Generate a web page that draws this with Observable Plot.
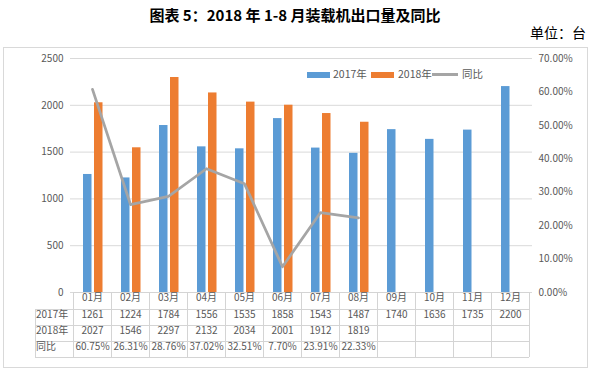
<!DOCTYPE html>
<html><head><meta charset="utf-8">
<script src="https://cdn.jsdelivr.net/npm/d3@7"></script>
<script src="https://cdn.jsdelivr.net/npm/@observablehq/plot@0.6"></script>
<style>
body{margin:0;background:#fff;}
#wrap{position:relative;width:590px;height:371px;overflow:hidden;font-family:"Noto Sans CJK SC","Noto Sans",sans-serif;}
#title{position:absolute;left:0;top:0;width:590px;height:30px;line-height:30px;text-align:center;font-size:15px;font-weight:bold;color:#000;}
#unit{position:absolute;right:4px;top:24px;line-height:16px;font-size:14px;color:#000;}
#box{position:absolute;left:3px;top:47px;width:585px;height:321px;box-sizing:border-box;border:1px solid #d9d9d9;}
#chart{position:absolute;left:0;top:47px;}
.lg{position:absolute;font-size:10.5px;color:#595959;line-height:12px;top:68px;}
.sw{position:absolute;top:71.5px;height:6px;width:23px;}
</style></head><body>
<div id="wrap">
  <div id="title">图表 5：2018 年 1-8 月装载机出口量及同比</div>
  <div id="unit">单位：台</div>
  <div id="box"></div>
  <div id="chart"></div>
  <div id="legend"></div>
</div>
<script>
const months = ["01月","02月","03月","04月","05月","06月","07月","08月","09月","10月","11月","12月"];
const sales2017 = [1261,1224,1784,1556,1535,1858,1543,1487,1740,1636,1735,2200];
const sales2018 = [2027,1546,2297,2132,2034,2001,1912,1819];
const yoy = [60.75,26.31,28.76,37.02,32.51,7.70,23.91,22.33];
const leftTicks = [0,500,1000,1500,2000,2500];
const rightTicks = [0,10,20,30,40,50,60,70];
const rowLabels = ["2017年","2018年","同比"];
const seriesNames = ["2017年","2018年","同比"];
const colors = ["#5b9bd5","#ed7d31","#a5a5a5"];

const pctToY = d3.scaleLinear([0,70],[0,2500]);
const fmtPct = v => v.toFixed(2) + "%";

const d17 = months.map((m,i)=>({month:m, value:sales2017[i]}));
const d18 = sales2018.map((v,i)=>({month:months[i], value:v}));
const dY = yoy.map((v,i)=>({month:months[i], value:v}));

// table layout (offsets below the plot frame)
const headerH = 17, rowH = 16, rowHeadLeft = 34.5;
const rowCenters = [headerH + rowH/2, headerH + rowH*1.5, headerH + rowH*2.5];

const tableGrid = (index, scales, values, dims) => {
  const x = scales.x;
  const bw = x(months[1]) - x(months[0]);
  const left = x(months[0]), right = x(months[months.length-1]) + bw;
  const B = dims.height - dims.marginBottom;
  const g = d3.create("svg:g").attr("stroke", "#d4d4d4").attr("fill","none").attr("shape-rendering","crispEdges");
  const hs = [0, headerH, headerH+rowH, headerH+2*rowH, headerH+3*rowH];
  hs.forEach((h,i)=>{
    g.append("line").attr("x1", i===0 ? left : rowHeadLeft).attr("x2", right)
     .attr("y1", B+h+0.5).attr("y2", B+h+0.5);
  });
  g.append("line").attr("x1", rowHeadLeft+0.5).attr("x2", rowHeadLeft+0.5)
   .attr("y1", B+headerH).attr("y2", B+headerH+3*rowH);
  for (let i=0;i<=months.length;i++){
    const xx = Math.round(left + i*bw) + 0.5;
    g.append("line").attr("x1", xx).attr("x2", xx).attr("y1", B).attr("y2", B+headerH+3*rowH);
  }
  return g.node();
};

const txt = {fill: "#595959", fontSize: 10};
const chart = Plot.plot({
  width: 590, height: 324,
  marginTop: 11, marginBottom: 79, marginLeft: 70, marginRight: 58,
  style: {fontFamily: '"Noto Sans CJK SC","Noto Sans",sans-serif', fontSize: "10px", color: "#595959", background: "transparent", overflow: "visible"},
  x: {type: "band", domain: months, padding: 0, axis: null},
  y: {domain: [0,2500], axis: null},
  marks: [
    Plot.gridY(leftTicks, {stroke: "#d9d9d9", strokeOpacity: 1}),
    Plot.axisY(leftTicks, {anchor: "left", tickSize: 0, tickPadding: 7, label: null, tickFormat: d => String(d), ...txt}),
    Plot.axisY(rightTicks.map(pctToY), {anchor: "right", tickSize: 0, tickPadding: 6, label: null,
      tickFormat: d => fmtPct(pctToY.invert(d)), ...txt}),
    Plot.barY(d17, {x: "month", y: "value", fill: colors[0], insetLeft: 10, insetRight: 19.5}),
    Plot.barY(d18, {x: "month", y: "value", fill: colors[1], insetLeft: 21, insetRight: 8.5}),
    Plot.line(dY, {x: "month", y: d => pctToY(d.value), stroke: colors[2], strokeWidth: 2.75, strokeLinejoin: "round"}),
    tableGrid,
    Plot.text(months, {x: d => d, text: d => d, frameAnchor: "bottom", dy: headerH/2, ...txt}),
    Plot.text(d17, {x: "month", text: d => String(d.value), frameAnchor: "bottom", dy: rowCenters[0], ...txt}),
    Plot.text(d18, {x: "month", text: d => String(d.value), frameAnchor: "bottom", dy: rowCenters[1], ...txt}),
    Plot.text(dY, {x: "month", text: d => fmtPct(d.value), frameAnchor: "bottom", dy: rowCenters[2], ...txt}),
    ...rowLabels.map((r,i) => Plot.text([r], {text: d => d, frameAnchor: "bottom-left", dx: rowHeadLeft + 1 - 70, dy: rowCenters[i], textAnchor: "start", ...txt}))
  ]
});
document.getElementById("chart").appendChild(chart);

// legend
const lg = document.getElementById("legend");
const items = [
  {type:"sw", left:307, color:colors[0]}, {type:"tx", left:333, text:seriesNames[0]},
  {type:"sw", left:371, color:colors[1]}, {type:"tx", left:398, text:seriesNames[1]},
  {type:"ln", left:432, color:colors[2]}, {type:"tx", left:462, text:seriesNames[2]}
];
items.forEach(it=>{
  const el = document.createElement("div");
  if (it.type==="sw"){ el.className="sw"; el.style.left=it.left+"px"; el.style.background=it.color; }
  else if (it.type==="ln"){ el.style.cssText=`position:absolute;left:${it.left}px;top:73px;width:26px;height:2.5px;background:${it.color}`; }
  else { el.className="lg"; el.style.left=it.left+"px"; el.textContent=it.text; }
  lg.appendChild(el);
});
</script>
</body></html>
